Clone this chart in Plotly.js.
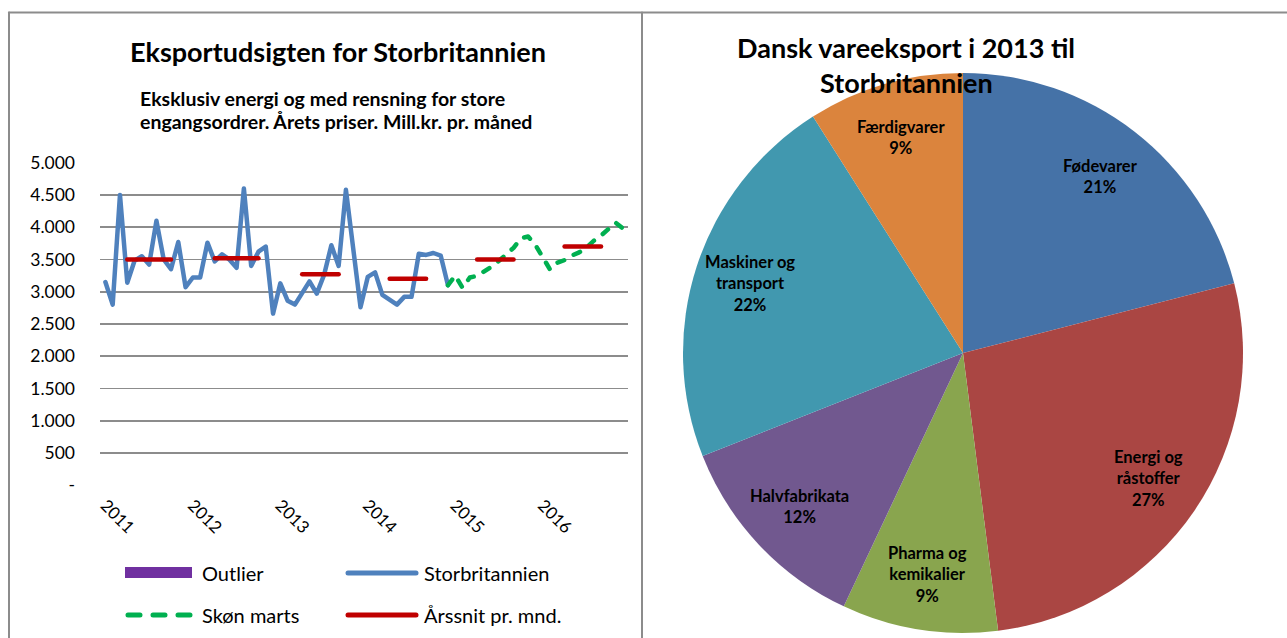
<!DOCTYPE html>
<html>
<head>
<meta charset="utf-8">
<script src="https://cdn.plot.ly/plotly-3.0.1.min.js"></script>
<style>
  html, body { margin: 0; padding: 0; background: #fff; }
  #chart { width: 1287px; height: 638px; }
  .scatterlayer .js-line { stroke-linejoin: round; stroke-linecap: round; }
  .shapelayer path { stroke-linecap: round; }
</style>
</head>
<body>
<div id="chart"></div>
<script>
// ---------- data: left chart (monthly, Jan 2011 .. Dec 2016) ----------
const yearLabels = ['2011', '2012', '2013', '2014', '2015', '2016'];
const monthsPerYear = 12;

const storbritannien = [
  3150, 2800, 4500, 3140, 3480, 3550, 3420, 4100, 3500, 3350, 3770, 3070,
  3220, 3220, 3760, 3470, 3580, 3500, 3370, 4600, 3400, 3620, 3700, 2660,
  3130, 2860, 2800, 2980, 3160, 2970, 3260, 3720, 3400, 4580, 3670, 2760,
  3230, 3300, 2950, 2870, 2800, 2920, 2920, 3590, 3570, 3600, 3560, 3100
];

const skoenMarts = [
  null, null, null, null, null, null, null, null, null, null, null, null,
  null, null, null, null, null, null, null, null, null, null, null, null,
  null, null, null, null, null, null, null, null, null, null, null, null,
  null, null, null, null, null, null, null, null, null, null, null, 3100,
  3250, 3060, 3220, 3245, 3310, 3390, 3480, 3580, 3680, 3830, 3855, 3725,
  3550, 3345, 3450, 3490, 3560, 3610, 3680, 3790, 3870, 3980, 4070, 3980
];

const aarssnit = [
  null, null, null, 3500, 3500, 3500, 3500, 3500, 3500, 3500, null, null,
  null, null, null, 3520, 3520, 3520, 3520, 3520, 3520, 3520, null, null,
  null, null, null, 3270, 3270, 3270, 3270, 3270, 3270, null, null, null,
  null, null, null, 3200, 3200, 3200, 3200, 3200, 3200, null, null, null,
  null, null, null, 3500, 3500, 3500, 3500, 3500, 3500, null, null, null,
  null, null, null, 3700, 3700, 3700, 3700, 3700, 3700, null, null, null
];

const yTickVals = [0, 500, 1000, 1500, 2000, 2500, 3000, 3500, 4000, 4500, 5000];
const yTickLabels = ['-', '500', '1.000', '1.500', '2.000', '2.500', '3.000', '3.500', '4.000', '4.500', '5.000'];

const legendNames = ['Outlier', 'Storbritannien', 'Skøn marts', 'Årssnit pr. mnd.'];

// ---------- data: right chart (pie) ----------
const pieCategories = ['Fødevarer', 'Energi og råstoffer', 'Pharma og kemikalier', 'Halvfabrikata', 'Maskiner og transport', 'Færdigvarer'];
const pieShares = [21, 27, 9, 12, 22, 9];
const pieColors = ['#4572A7', '#AA4643', '#89A54E', '#71588F', '#4198AF', '#DB843D'];

// ---------- helpers ----------
const W = 1287, H = 638;
const px = x => x / W;
const py = y => 1 - y / H;

const nMonths = yearLabels.length * monthsPerYear;
const monthIdx = Array.from({length: nMonths}, (_, i) => i);
const yearTickVals = yearLabels.map((_, k) => k * monthsPerYear);

const FONT = 'Lato, "Open Sans", sans-serif';

// pie geometry (pixels)
const pieCx = 963, pieCy = 353, pieR = 280;

const traces = [
  {
    type: 'scatter', mode: 'lines', name: 'Storbritannien',
    x: monthIdx.slice(0, storbritannien.length), y: storbritannien,
    line: {color: '#4F81BD', width: 4.5}, hoverinfo: 'skip',
    xaxis: 'x', yaxis: 'y', showlegend: false
  },
  {
    type: 'scatter', mode: 'lines', name: 'Skøn marts',
    x: monthIdx, y: skoenMarts, connectgaps: false,
    line: {color: '#00B050', width: 4.5, dash: '7px,11px'}, hoverinfo: 'skip',
    xaxis: 'x', yaxis: 'y', showlegend: false
  },
  {
    type: 'scatter', mode: 'lines', name: 'Årssnit pr. mnd.',
    x: monthIdx, y: aarssnit, connectgaps: false,
    line: {color: '#C00000', width: 4.5}, hoverinfo: 'skip',
    xaxis: 'x', yaxis: 'y', showlegend: false
  },
  {
    type: 'pie',
    labels: pieCategories,
    values: pieShares,
    sort: false,
    direction: 'clockwise',
    rotation: 0,
    marker: {colors: pieColors, line: {width: 0}},
    textinfo: 'none',
    domain: {x: [px(pieCx - pieR), px(pieCx + pieR)], y: [py(pieCy + pieR), py(pieCy - pieR)]},
    hoverinfo: 'skip',
    showlegend: false
  }
];

const grid = '#8c8c8c';
const shapes = [
  // frames
  {type: 'line', xref: 'paper', yref: 'paper', x0: px(9), x1: px(9), y0: py(12.5), y1: py(640), line: {color: grid, width: 2}},
  {type: 'line', xref: 'paper', yref: 'paper', x0: px(9), x1: px(1290), y0: py(12.5), y1: py(12.5), line: {color: grid, width: 2}},
  {type: 'line', xref: 'paper', yref: 'paper', x0: px(642), x1: px(642), y0: py(12.5), y1: py(640), line: {color: grid, width: 2}},
  // custom legend symbols
  {type: 'rect', xref: 'paper', yref: 'paper', x0: px(125), x1: px(192), y0: py(578), y1: py(567), fillcolor: '#7030A0', line: {width: 0}},
  {type: 'line', xref: 'paper', yref: 'paper', x0: px(348), x1: px(416), y0: py(573), y1: py(573), line: {color: '#4F81BD', width: 5}},
  {type: 'line', xref: 'paper', yref: 'paper', x0: px(128), x1: px(190), y0: py(615), y1: py(615), line: {color: '#00B050', width: 5, dash: '12px,13px'}},
  {type: 'line', xref: 'paper', yref: 'paper', x0: px(348), x1: px(416), y0: py(615), y1: py(615), line: {color: '#C00000', width: 5}}
];

const ann = (text, x, y, size, opts = {}) => Object.assign({
  text, x: px(x), y: py(y), xref: 'paper', yref: 'paper', showarrow: false,
  xanchor: 'center', yanchor: 'middle', font: {family: FONT, size, color: '#000'}
}, opts);

const annotations = [
  ann('<b>Eksportudsigten for Storbritannien</b>', 338, 52, 27),
  ann('<b>Eksklusiv energi og med rensning for store</b>', 138, 98, 19.5, {xanchor: 'left'}),
  ann('<b>engangsordrer. Årets priser. Mill.kr. pr. måned</b>', 138, 121, 19.5, {xanchor: 'left'}),
  ann('<b>Dansk vareeksport i 2013 til</b>', 906, 47, 27),
  ann('<b>Storbritannien</b>', 906, 82, 27),
  ann(legendNames[0], 200, 573, 20, {xanchor: 'left'}),
  ann(legendNames[1], 422, 573, 20, {xanchor: 'left'}),
  ann(legendNames[2], 200, 615, 20, {xanchor: 'left'}),
  ann(legendNames[3], 422, 615, 20, {xanchor: 'left'})
];

// pie slice labels placed at the middle angle of each slice (computed from the shares)
const total = pieShares.reduce((a, b) => a + b, 0);
let cum = 0;
pieShares.forEach((v, k) => {
  const mid = (cum + v / 2) / total * 2 * Math.PI;
  cum += v;
  const r = 0.8 * pieR;
  const x = pieCx + r * Math.sin(mid);
  const y = pieCy - r * Math.cos(mid);
  const pct = Math.round(v / total * 100) + '%';
  const name = pieCategories[k].replace(' og ', ' og<br>');
  annotations.push(ann('<b>' + name + '<br>' + pct + '</b>', x, y, 16.5));
});

const layout = {
  width: W, height: H,
  margin: {l: 0, r: 0, t: 0, b: 0},
  paper_bgcolor: '#fff', plot_bgcolor: 'rgba(0,0,0,0)',
  showlegend: false,
  font: {family: FONT, color: '#000'},
  xaxis: {
    domain: [px(100), px(628)],
    range: [-0.74, 71.7],
    tickvals: yearTickVals, ticktext: yearLabels,
    tickangle: 45, ticks: '', showgrid: false, zeroline: false, showline: false,
    tickfont: {family: FONT, size: 17, color: '#000'},
    ticklabelstandoff: 6,
    fixedrange: true
  },
  yaxis: {
    domain: [py(485.2), py(162.7)],
    range: [0, 5000],
    tickvals: yTickVals, ticktext: yTickLabels,
    ticks: '', showgrid: true, gridcolor: grid, gridwidth: 1.6,
    zeroline: false, showline: false,
    tickfont: {family: FONT, size: 17.5, color: '#000'},
    ticklabelstandoff: 24,
    fixedrange: true
  },
  shapes, annotations
};

Plotly.newPlot('chart', traces, layout, {staticPlot: true, displayModeBar: false});
</script>
</body>
</html>
